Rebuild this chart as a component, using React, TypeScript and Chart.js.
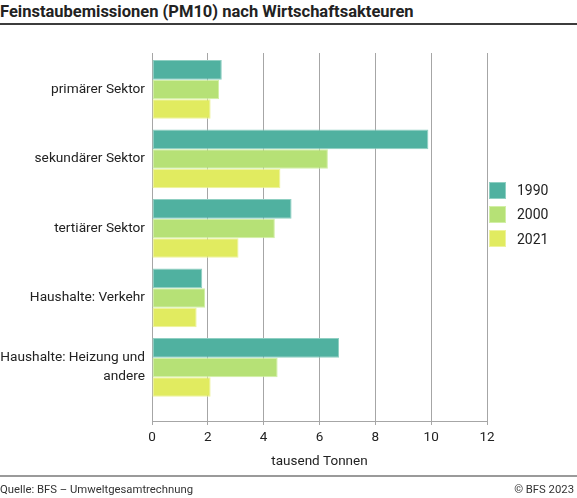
import React, { useEffect, useRef } from 'react';
import { Chart, registerables } from 'chart.js';

Chart.register(...registerables);

const categories: (string | string[])[] = [
  'primärer Sektor',
  'sekundärer Sektor',
  'tertiärer Sektor',
  'Haushalte: Verkehr',
  ['Haushalte: Heizung und', 'andere'],
];
const years = ['1990', '2000', '2021'];
const values1990 = [2.5, 9.9, 5.0, 1.8, 6.7];
const values2000 = [2.4, 6.3, 4.4, 1.9, 4.5];
const values2021 = [2.1, 4.6, 3.1, 1.6, 2.1];
const xTicks = [0, 2, 4, 6, 8, 10, 12];
const fills = ['#50b1a0', '#b6e176', '#e1eb60'];
const edges = ['#8fcfc2', '#d2efa6', '#eef39c'];

const font = 'Roboto, "Noto Sans", sans-serif';

const App: React.FC = () => {
  const chartRef = useRef<HTMLCanvasElement>(null);

  useEffect(() => {
    document.body.style.margin = '0';
    if (!chartRef.current) return;
    const ctx = chartRef.current.getContext('2d');
    if (!ctx) return;
    const series = [values1990, values2000, values2021];
    const chart = new Chart(ctx, {
      type: 'bar',
      data: {
        datasets: series.map((vals, i) => ({
          label: years[i],
          data: vals.map((v, j) => ({ x: v, y: j })),
          backgroundColor: fills[i],
          borderColor: edges[i],
          borderWidth: 1,
          borderSkipped: false,
          categoryPercentage: 0.845,
          barPercentage: 1.0,
        })),
      },
      options: {
        indexAxis: 'y',
        animation: false,
        responsive: false,
        layout: { padding: { top: 53, right: 90, bottom: 28, left: 0 } },
        plugins: {
          legend: { display: false },
          tooltip: { enabled: false },
        },
        scales: {
          x: {
            type: 'linear',
            min: 0,
            max: 12,
            afterBuildTicks: (scale: any) => {
              scale.ticks = xTicks.map((v) => ({ value: v }));
            },
            afterFit: (scale: any) => {
              // plot bottom sits at 421px like the original
              scale.height = 49;
            },
            grid: { color: '#a6a6a6', lineWidth: 1, tickLength: 4 },
            border: { color: '#a6a6a6', width: 1 },
            ticks: { color: '#222', font: { family: font, size: 13.5 }, padding: 5 },
            title: {
              display: true,
              text: 'tausend Tonnen',
              color: '#222',
              font: { family: font, size: 13.5 },
              padding: { top: 4, bottom: 0 },
            },
          },
          y: {
            type: 'linear',
            reverse: true,
            offset: false,
            min: -0.525,
            max: 4.77,
            afterBuildTicks: (scale: any) => {
              scale.ticks = categories.map((_, i) => ({ value: i }));
            },
            afterFit: (scale: any) => {
              scale.width = 152;
            },
            grid: { display: false, drawTicks: false, offset: false },
            border: { display: true, color: '#a6a6a6', width: 1 },
            ticks: {
              color: '#222',
              font: { family: font, size: 13.7, lineHeight: 1.38 },
              padding: 7,
              callback: (v: any) => categories[Number(v)] ?? '',
            },
          },
        },
      },
    });
    return () => {
      chart.destroy();
    };
  }, []);

  return (
    <div style={{ position: 'relative', width: 577, height: 498, fontFamily: font, color: '#222' }}>
      <div
        style={{
          position: 'absolute',
          left: 0,
          top: 2,
          fontWeight: 'bold',
          fontSize: 16.5,
          lineHeight: '20px',
          whiteSpace: 'nowrap',
        }}
      >
        Feinstaubemissionen (PM10) nach Wirtschaftsakteuren
      </div>
      <div style={{ position: 'absolute', left: 0, top: 23, width: 577, height: 2, background: '#3c3c3c' }} />
      <canvas ref={chartRef} width={577} height={498} style={{ position: 'absolute', left: 0, top: 0 }} />
      <div style={{ position: 'absolute', left: 489, top: 181 }}>
        {years.map((y, i) => (
          <div key={y} style={{ display: 'flex', alignItems: 'center', height: 18, marginBottom: 6.3 }}>
            <span
              style={{
                width: 17,
                height: 17,
                background: fills[i],
                border: `1px solid ${edges[i]}`,
                boxSizing: 'border-box',
                marginRight: 11,
              }}
            />
            <span style={{ fontSize: 14 }}>{y}</span>
          </div>
        ))}
      </div>
      <div style={{ position: 'absolute', left: 0, top: 475, width: 577, height: 2, background: '#9a9a9a' }} />
      <div style={{ position: 'absolute', left: 0, top: 482, fontSize: 11.3, lineHeight: '16px', color: '#333' }}>
        Quelle: BFS – Umweltgesamtrechnung
      </div>
      <div style={{ position: 'absolute', right: 3, top: 482, fontSize: 11.3, lineHeight: '16px', color: '#333' }}>
        © BFS 2023
      </div>
    </div>
  );
};

export default App;
